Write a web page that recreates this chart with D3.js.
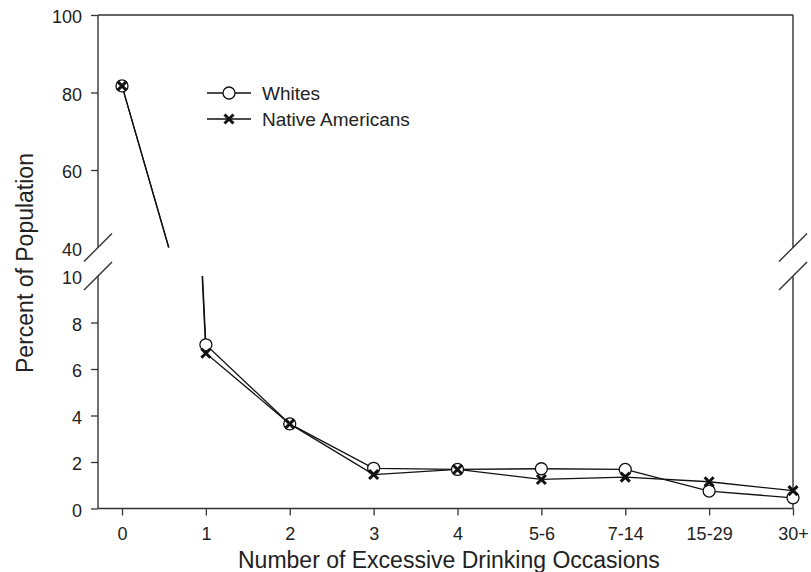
<!DOCTYPE html>
<html>
<head>
<meta charset="utf-8">
<script src="https://cdn.jsdelivr.net/npm/d3@7"></script>
<style>
  body { margin: 0; background: #fff; }
  svg { display: block; font-family: "Liberation Sans", Arial, sans-serif; }
</style>
</head>
<body>
<div id="chart-container"></div>
<script>
// Dữ liệu
const categories = ["0", "1", "2", "3", "4", "5-6", "7-14", "15-29", "30+"];
const whites = [81.7, 7.04, 3.64, 1.73, 1.68, 1.71, 1.68, 0.75, 0.46];
const nativeAmericans = [81.7, 6.68, 3.64, 1.46, 1.68, 1.25, 1.35, 1.15, 0.77];
const upperTicks = [40, 60, 80, 100];
const lowerTicks = [0, 2, 4, 6, 8, 10];

const width = 811, height = 572;
const plotLeft = 98, plotRight = 793, plotTop = 15, plotBottom = 508.5;
const upperBottom = 247.5, lowerTop = 276;

const svg = d3.select("#chart-container").append("svg")
    .attr("width", width)
    .attr("height", height);

// Thang đo
const x = d3.scalePoint().domain(categories).range([122, plotRight]);
const yUp = d3.scaleLinear().domain([40, 100]).range([upperBottom, plotTop]);
const yLow = d3.scaleLinear().domain([0, 10]).range([plotBottom, lowerTop]);

// Clip cho hai phần trục
const defs = svg.append("defs");
defs.append("clipPath").attr("id", "clip-up")
    .append("rect").attr("x", plotLeft).attr("y", plotTop - 10).attr("width", plotRight - plotLeft + 10).attr("height", upperBottom - plotTop + 10);
defs.append("clipPath").attr("id", "clip-low")
    .append("rect").attr("x", plotLeft).attr("y", lowerTop).attr("width", plotRight - plotLeft + 10).attr("height", plotBottom - lowerTop + 10);

const axisColor = "#333";

// Trục y
function yAxis(scale, ticks, skip) {
    const g = svg.append("g")
        .attr("transform", `translate(${plotLeft},0)`)
        .call(d3.axisLeft(scale).tickValues(ticks).tickSize(7).tickPadding(9));
    g.select(".domain").remove();
    g.selectAll(".tick line").attr("stroke", axisColor).attr("stroke-width", 1.3)
        .filter(d => d === skip).remove();
    g.selectAll(".tick text").attr("fill", "#222").attr("dy", "0.42em").style("font-size", "18px");
}
yAxis(yUp, upperTicks, 40);
yAxis(yLow, lowerTicks, 10);

// Trục x
const xg = svg.append("g")
    .attr("transform", `translate(0,${plotBottom})`)
    .call(d3.axisBottom(x).tickSize(7).tickPadding(12));
xg.select(".domain").remove();
xg.selectAll(".tick line").attr("stroke", axisColor).attr("stroke-width", 1.3);
xg.selectAll(".tick text").attr("fill", "#222").style("font-size", "18px");

// Khung
const frame = [
    [plotLeft, plotTop, plotRight, plotTop],
    [plotLeft, plotBottom, plotRight, plotBottom],
    [plotLeft, plotTop, plotLeft, upperBottom],
    [plotLeft, lowerTop, plotLeft, plotBottom],
    [plotRight, plotTop, plotRight, upperBottom],
    [plotRight, lowerTop, plotRight, plotBottom]
];
svg.append("g").selectAll("line").data(frame).join("line")
    .attr("x1", d => d[0]).attr("y1", d => d[1])
    .attr("x2", d => d[2]).attr("y2", d => d[3])
    .attr("stroke", axisColor).attr("stroke-width", 1.4);

// Dấu ngắt trục
const breaks = [[plotLeft, upperBottom], [plotLeft, lowerTop], [plotRight, upperBottom], [plotRight, lowerTop]];
svg.append("g").selectAll("line").data(breaks).join("line")
    .attr("x1", d => d[0] - 14).attr("y1", d => d[1] + 14)
    .attr("x2", d => d[0] + 14).attr("y2", d => d[1] - 14)
    .attr("stroke", axisColor).attr("stroke-width", 1.4);

// Vẽ đường và điểm cho từng phần
const series = [
    { name: "Whites", values: whites, marker: "circle" },
    { name: "Native Americans", values: nativeAmericans, marker: "x" }
];

function drawMarker(g, type, cx, cy) {
    if (type === "circle") {
        g.append("circle").attr("cx", cx).attr("cy", cy).attr("r", 6)
            .attr("fill", "#fff").attr("stroke", "#111").attr("stroke-width", 1.3);
    } else {
        const s = 4.5;
        g.append("path")
            .attr("d", `M${cx - s},${cy - s}L${cx + s},${cy + s}M${cx - s},${cy + s}L${cx + s},${cy - s}`)
            .attr("stroke", "#111").attr("stroke-width", 3);
    }
}

[[yUp, "clip-up", [40, 100]], [yLow, "clip-low", [0, 10]]].forEach(([scale, clip, dom]) => {
    const g = svg.append("g").attr("clip-path", `url(#${clip})`);
    const line = d3.line().x((d, i) => x(categories[i])).y(d => scale(d));
    series.forEach(s => {
        g.append("path").datum(s.values)
            .attr("d", line)
            .attr("fill", "none")
            .attr("stroke", "#111")
            .attr("stroke-width", 1.3);
    });
    series.forEach(s => {
        s.values.forEach((v, i) => {
            if (v >= dom[0] && v <= dom[1]) drawMarker(svg, s.marker, x(categories[i]), scale(v));
        });
    });
});

// Chú thích
const legend = svg.append("g");
series.forEach((s, i) => {
    const ly = 93 + i * 26;
    legend.append("line").attr("x1", 207).attr("x2", 251).attr("y1", ly).attr("y2", ly)
        .attr("stroke", "#111").attr("stroke-width", 1.3);
    drawMarker(legend, s.marker, 229, ly);
    legend.append("text").attr("x", 262).attr("y", ly).attr("dy", "0.36em")
        .attr("fill", "#222").style("font-size", "19px").text(s.name);
});

// Tiêu đề trục
svg.append("text")
    .attr("x", 238).attr("y", 568)
    .attr("text-anchor", "start").attr("fill", "#222")
    .style("font-size", "23px")
    .text("Number of Excessive Drinking Occasions");

svg.append("text")
    .attr("transform", `translate(33,263) rotate(-90)`)
    .attr("text-anchor", "middle").attr("fill", "#222")
    .style("font-size", "23px")
    .text("Percent of Population");
</script>
</body>
</html>
